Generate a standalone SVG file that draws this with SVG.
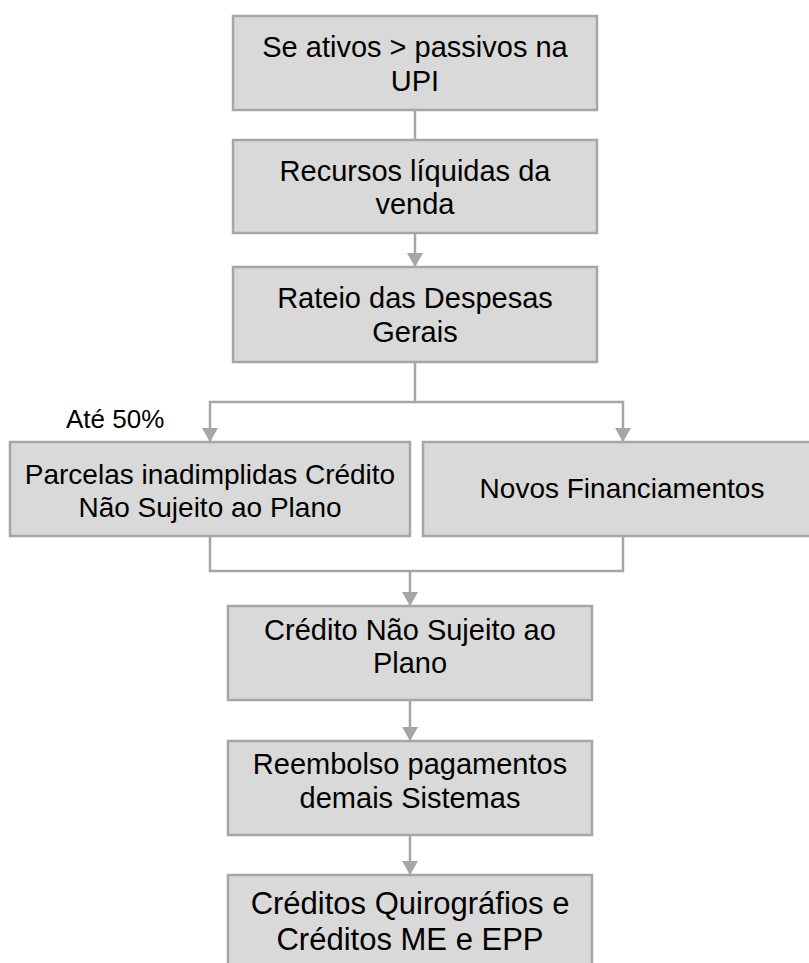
<svg xmlns="http://www.w3.org/2000/svg" width="809" height="963" viewBox="0 0 809 963">
<style>
.box{fill:#d9d9d9;stroke:#a6a6a6;stroke-width:2.5}
.t{font-family:"Liberation Sans",Arial,sans-serif;font-size:29px;fill:#000;text-anchor:middle}
.t28{font-size:28px}
.t31{font-size:31px}
.c{fill:none;stroke:#a6a6a6;stroke-width:2.5}
.lbl{font-family:"Liberation Sans",Arial,sans-serif;font-size:26px;fill:#000}
</style>
<defs>
<marker id="ah" markerUnits="userSpaceOnUse" markerWidth="16" markerHeight="16" viewBox="0 0 16 16" refX="14" refY="8" orient="auto">
<path d="M0,0 L14,8 L0,16 Z" fill="#a6a6a6"/>
</marker>
</defs>
<rect width="809" height="963" fill="#fff"/>
<g id="connectors">
<path class="c" d="M415,110 V140"/>
<path class="c" d="M415,233 V267" marker-end="url(#ah)"/>
<path class="c" d="M415,362 V402 H210 V442" marker-end="url(#ah)"/>
<path class="c" d="M415,402 H623 V442" marker-end="url(#ah)"/>
<path class="c" d="M210,536 V571 H623 V536"/>
<path class="c" d="M410,571 V606" marker-end="url(#ah)"/>
<path class="c" d="M410,700 V741" marker-end="url(#ah)"/>
<path class="c" d="M410,835 V875" marker-end="url(#ah)"/>
</g>
<g id="n1"><rect class="box" x="233" y="16" width="364" height="94"/>
<text class="t" x="415" y="57">Se ativos &gt; passivos na</text><text class="t" x="415" y="91">UPI</text></g>
<g id="n2"><rect class="box" x="233" y="140" width="364" height="93"/>
<text class="t" x="415" y="181">Recursos líquidas da</text><text class="t" x="415" y="214">venda</text></g>
<g id="n3"><rect class="box" x="233" y="267" width="364" height="95"/>
<text class="t" x="415" y="308">Rateio das Despesas</text><text class="t" x="415" y="342">Gerais</text></g>
<g id="lbl50"><text class="lbl" x="66" y="428">Até 50%</text></g>
<g id="n4"><rect class="box" x="10" y="442" width="400" height="94"/>
<text class="t t28" x="210" y="484">Parcelas inadimplidas Crédito</text><text class="t t28" x="210" y="517">Não Sujeito ao Plano</text></g>
<g id="n5"><rect class="box" x="423" y="442" width="400" height="94"/>
<text class="t t28" x="622" y="498">Novos Financiamentos</text></g>
<g id="n6"><rect class="box" x="228" y="606" width="364" height="94"/>
<text class="t" x="410" y="640">Crédito Não Sujeito ao</text><text class="t" x="410" y="673">Plano</text></g>
<g id="n7"><rect class="box" x="228" y="741" width="364" height="94"/>
<text class="t" x="410" y="774">Reembolso pagamentos</text><text class="t" x="410" y="808">demais Sistemas</text></g>
<g id="n8"><rect class="box" x="228" y="875" width="364" height="100"/>
<text class="t t31" x="410" y="914">Créditos Quirográfios e</text><text class="t t31" x="410" y="950">Créditos ME e EPP</text></g>
</svg>
